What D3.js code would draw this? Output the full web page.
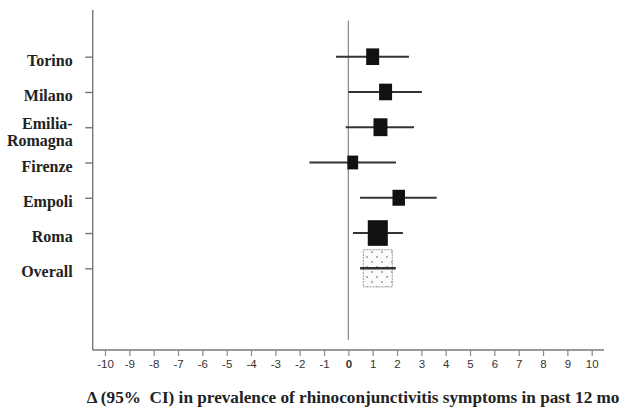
<!DOCTYPE html>
<html><head><meta charset="utf-8">
<script src="https://cdn.jsdelivr.net/npm/d3@7"></script>
<style>html,body{margin:0;padding:0;background:#fff;}svg{display:block;}</style>
</head><body>
<svg id="chart" width="625" height="419"></svg>
<script>
const categories = ["Torino","Milano","Emilia-Romagna","Firenze","Empoli","Roma","Overall"];
const estimates  = [1.0, 1.53, 1.32, 0.18, 2.07, 1.21, 1.21];
const ciLow      = [-0.51, 0.0, -0.11, -1.60, 0.48, 0.19, 0.48];
const ciHigh     = [2.49, 3.02, 2.70, 1.96, 3.63, 2.24, 1.95];
const weights    = [13, 13, 15, 9, 12, 31, 65];
const xTicks     = [-10,-9,-8,-7,-6,-5,-4,-3,-2,-1,0,1,2,3,4,5,6,7,8,9,10];
const xTitle     = "\u0394 (95%\u00a0 CI) in prevalence of rhinoconjunctivitis symptoms in past 12 mo";

const svg = d3.select("#chart");
const axisX0 = 92.7, axisY = 350;

const x = d3.scaleLinear().domain([-10, 10]).range([105, 591.7]);
const y = d3.scalePoint().domain(categories).range([56.7, 268.3]);
const size = d3.scaleSqrt().domain([0, 1]).range([0, 3.6]);

// dotted pattern for overall box
const defs = svg.append("defs");
const pat = defs.append("pattern").attr("id","dots").attr("patternUnits","userSpaceOnUse")
  .attr("width", 10).attr("height", 10);
pat.append("rect").attr("width",10).attr("height",10).attr("fill","#fbfbfb");
pat.append("circle").attr("cx",2).attr("cy",2).attr("r",0.8).attr("fill","#555");
pat.append("circle").attr("cx",7).attr("cy",7).attr("r",0.8).attr("fill","#555");

// y axis line
svg.append("line").attr("x1",axisX0).attr("x2",axisX0).attr("y1",10).attr("y2",axisY)
  .attr("stroke","#777").attr("stroke-width",1.4);
// x axis line
svg.append("line").attr("x1",axisX0).attr("x2",604).attr("y1",axisY).attr("y2",axisY)
  .attr("stroke","#777").attr("stroke-width",1.4);

// x ticks via d3 axis
const xAxis = d3.axisBottom(x).tickValues(xTicks).tickSize(6).tickFormat(d3.format("d"));
const gx = svg.append("g").attr("transform",`translate(0,${axisY})`).call(xAxis);
gx.select(".domain").remove();
gx.selectAll(".tick line").attr("stroke","#888").attr("stroke-width",1.2);
gx.selectAll(".tick text").attr("fill","#333").attr("font-family","Liberation Sans, Arial, sans-serif")
  .attr("font-size",11.5).attr("dy","0.75em")
  .attr("font-weight", d => d === 0 ? "bold" : "normal")
  .text(d => String(d));

// y ticks via d3 axis (left)
const yAxis = d3.axisLeft(y).tickSize(7.5).tickFormat("");
const gy = svg.append("g").attr("transform",`translate(${axisX0},0)`).call(yAxis);
gy.select(".domain").remove();
gy.selectAll(".tick line").attr("stroke","#777").attr("stroke-width",1.4);

// category labels
const labels = svg.append("g").attr("font-family","Liberation Serif, Times New Roman, serif")
  .attr("font-weight","bold").attr("font-size",16).attr("fill","#222").attr("text-anchor","end");
categories.forEach(c => {
  const parts = c === "Emilia-Romagna" ? ["Emilia-","Romagna"] : [c];
  const t = labels.append("text").attr("x",72.7).attr("y", y(c) + 9);
  if (parts.length === 1) {
    t.text(c);
  } else {
    t.attr("y", y(c) + 1.5);
    t.append("tspan").attr("x",72.7).text(parts[0]);
    t.append("tspan").attr("x",72.7).attr("dy",17.5).text(parts[1]);
  }
});

// zero reference line
svg.append("line").attr("x1",x(0)).attr("x2",x(0)).attr("y1",20.7).attr("y2",340)
  .attr("stroke","#888").attr("stroke-width",1.2);

const data = categories.map((c,i) => ({c, est: estimates[i], lo: ciLow[i], hi: ciHigh[i], w: weights[i]}));

const rows = svg.append("g").selectAll("g").data(data).join("g");

// overall box first (line drawn over it)
rows.filter(d => d.c === "Overall").append("rect")
  .attr("x", d => x(d.est) - size(d.w)/2)
  .attr("y", d => y(d.c) - size(d.w)*1.28/2)
  .attr("width", d => size(d.w))
  .attr("height", d => size(d.w)*1.28)
  .attr("fill", "url(#dots)")
  .attr("stroke", "#999")
  .attr("stroke-width", 1)
  .attr("stroke-dasharray", "2,1");

rows.append("line")
  .attr("x1", d => x(d.lo)).attr("x2", d => x(d.hi))
  .attr("y1", d => y(d.c)).attr("y2", d => y(d.c))
  .attr("stroke", "#333")
  .attr("stroke-width", d => d.c === "Overall" ? 2.4 : 2);

// study boxes on top of lines
rows.filter(d => d.c !== "Overall").append("rect")
  .attr("x", d => x(d.est) - size(d.w)/2)
  .attr("y", d => y(d.c) - size(d.w)*1.28/2)
  .attr("width", d => size(d.w))
  .attr("height", d => size(d.w)*1.28)
  .attr("fill", "#111");

// x title
svg.append("text").attr("x",86.7).attr("y",403)
  .attr("font-family","Liberation Serif, Times New Roman, serif").attr("font-weight","bold")
  .attr("font-size",17.2).attr("fill","#222").text(xTitle);
</script>
</body></html>
